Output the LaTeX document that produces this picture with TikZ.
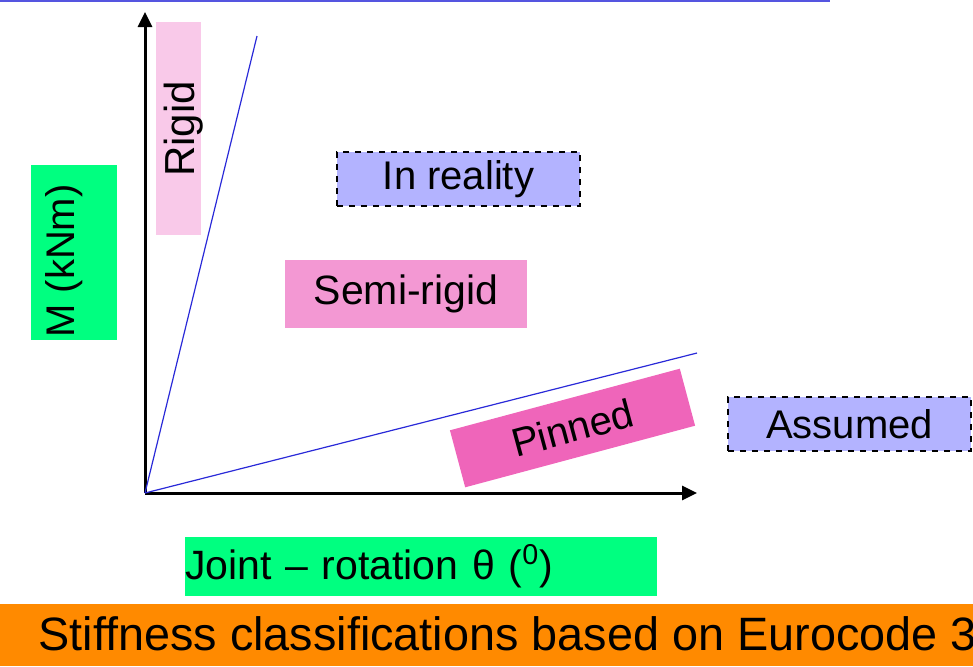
\documentclass[tikz,border=0pt]{standalone}
\usepackage{fontspec}
\setmainfont{Liberation Sans}
\usepackage{xcolor}
\usepackage{tikz}
\usetikzlibrary{arrows.meta}

\definecolor{MGreen}{HTML}{00FF80}
\definecolor{RigidPink}{HTML}{F9C9E9}
\definecolor{SemiPink}{HTML}{F398D3}
\definecolor{PinPink}{HTML}{EF65BA}
\definecolor{Lavender}{HTML}{B3B3FF}
\definecolor{Banner}{HTML}{FF8A00}
\definecolor{LineBlue}{HTML}{2A2AD8}

\begin{document}
\begin{tikzpicture}[x=0.5pt,y=-0.5pt]
		\useasboundingbox (0,0) rectangle (973,666);
		\clip (0,0) rectangle (973,666);

		\coordinate (O) at (145,493);
		\coordinate (Ytop) at (145,12);
		\coordinate (Xend) at (697,493);
		\coordinate (R) at (257,36);
		\coordinate (P) at (697,353);
		\coordinate (TL) at (0,1);
		\coordinate (TR) at (830,1);

		\draw [draw=LineBlue!80, line width=1pt] (TL) -- (TR);

		\begin{scope}[every node/.style={inner sep=0pt,font=\fontsize{20}{24}\selectfont}]
			\node [fill=MGreen,minimum width=43pt,minimum height=87.5pt] (mbox) at (74,252.5) {};
			\node [rotate=90] (mlabel) at (64,261) {M (kNm)};
			\node [fill=RigidPink,minimum width=22.5pt,minimum height=106.5pt] (rigidbox) at (178.5,128.5) {};
			\node [rotate=90,font=\fontsize{21}{24}\selectfont] (rigid) at (184,129) {Rigid};
			\node [fill=SemiPink,minimum width=121pt,minimum height=34pt,
				font=\fontsize{20.5}{24}\selectfont] (semi) at (406,294) {Semi-rigid};
			\node [rotate=15,fill=PinPink,minimum width=119pt,minimum height=29.5pt] (pinned) at (572.5,428) {Pinned};
			\node [fill=MGreen,text width=236pt,align=left,minimum height=29.5pt,
				font=\fontsize{20.5}{24}\selectfont] (joint) at (421,566.5) {Joint -- rotation θ (\textsuperscript{0})};
		\end{scope}

		\begin{scope}[every node/.style={fill=Lavender,draw=black,dashed,line width=0.6pt,
					  inner sep=0pt,minimum width=121.5pt,minimum height=27pt,
					  font=\fontsize{20}{24}\selectfont}]
			\node (real) at (458.5,179) {In reality};
			\node (assumed) at (849.5,424) {Assumed};
		\end{scope}

		\begin{scope}[>={Triangle[length=7.5pt,width=7pt]},line width=1.5pt]
			\draw [->] (O) -- (Ytop);
			\draw [->] (O) -- (Xend);
		\end{scope}

		\draw [draw=LineBlue, line width=0.6pt] (O) -- (R);
		\draw [draw=LineBlue, line width=0.6pt] (O) -- (P);

		\node [fill=Banner,minimum width=486.5pt,minimum height=31pt,inner sep=0pt,anchor=north west] (banner) at (0,604) {};
		\node [anchor=base west,inner sep=0pt,font=\fontsize{23.4}{28}\selectfont] (title) at (38,650) {Stiffness classifications based on Eurocode 3};
\end{tikzpicture}
\end{document}
